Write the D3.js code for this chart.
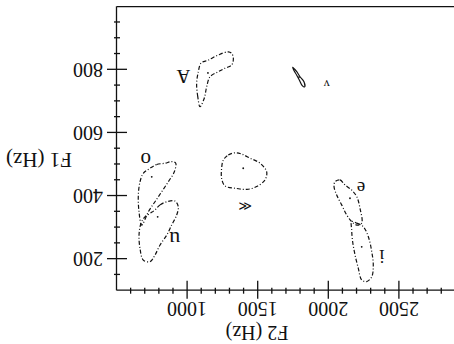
<!DOCTYPE html>
<html>
<head>
<meta charset="utf-8">
<script src="https://cdn.jsdelivr.net/npm/d3@7/dist/d3.min.js"></script>
<style>
  body { margin: 0; background: #fff; }
  .chart text { font-family: "Liberation Serif", "Times New Roman", serif; fill: #111; }
</style>
</head>
<body>
<div class="chart"></div>
<script>
// vowel regions in the F2 / F1 plane (Hz)
let f2Labels = [1000, 1500, 2000, 2500]
let f1Labels = [200, 400, 600, 800]

let regionA = [[1088,683],[1072,715],[1064,757],[1076,794],[1095,821],[1147,831],[1217,847],[1288,857],
  [1312,852],[1324,836],[1312,815],[1265,805],[1217,794],[1159,778],[1135,746],[1118,710]]
let regionV = [[1744,808],[1773,794],[1796,778],[1824,762],[1829,746],[1812,750],[1791,768],[1773,783],[1754,797]]
let regionMid = [[1253,514],[1288,530],[1336,537],[1383,533],[1442,520],[1513,504],[1560,477],[1548,451],
  [1489,430],[1419,421],[1348,424],[1265,432],[1241,456],[1241,488]]
let regionO = [[734,488],[781,500],[840,504],[887,509],[916,504],[906,477],[863,445],[817,414],[769,382],
  [722,350],[675,308],[656,350],[651,403],[663,445],[686,472]]
let regionU = [[769,356],[805,372],[852,382],[911,384],[934,366],[923,340],[887,308],[852,276],[805,245],
  [769,213],[734,192],[686,197],[663,234],[656,276],[670,314],[698,334],[734,345]]
let regionE = [[2044,445],[2079,451],[2115,435],[2162,419],[2198,398],[2221,361],[2233,314],[2198,308],
  [2162,319],[2127,340],[2091,372],[2056,403],[2037,430]]
let regionI = [[2162,319],[2198,314],[2244,303],[2280,271],[2304,224],[2315,181],[2304,144],[2268,129],
  [2233,134],[2209,171],[2186,213],[2169,255],[2162,292]]

let centreF2 = [1144, 1789, 1394, 746, 788, 2150, 2233]
let centreF1 = [790, 777, 488, 461, 334, 393, 239]

let vowelNames = ['A', 'v', '\u226A', 'o', 'u', 'e', 'i']
let vowelF2 = [970, 1985, 1406, 703, 909, 2228, 2375]
let vowelF1 = [780, 759, 372, 521, 272, 431, 210]

let regions = [regionA, regionV, regionMid, regionO, regionU, regionE, regionI]

let width = 454, height = 344

let svg = d3.select('.chart')
  .append('svg')
    .attr('width', width)
    .attr('height', height)

// the printed figure was scanned upside down: draw it upright, then turn it
let g = svg.append('g')
  .attr('transform', `rotate(180, ${width / 2}, ${height / 2})`)

let x = d3.scaleLinear().domain([500, 3000]).range([337, -16])
let y = d3.scaleLinear().domain([100, 1000]).range([53.3, 337.3])

// F2 axis (top when upright), ticks cross the line
g.append('g')
    .attr('transform', `translate(0, ${y(100)})`)
  .call(d3.axisTop(x).tickValues(d3.range(600, 3001, 100).filter(v => v % 500 !== 0))
    .tickSize(3).tickSizeOuter(0).tickFormat(''))
  .call(a => a.select('.domain').remove())
  .selectAll('.tick line').attr('y1', 3)

let xAxis = g.append('g')
    .attr('transform', `translate(0, ${y(100)})`)
  .call(d3.axisTop(x).tickValues(f2Labels.concat([3000])).tickSize(8).tickPadding(3)
    .tickSizeOuter(0).tickFormat(d => f2Labels.includes(d) ? d3.format('d')(d) : ''))
xAxis.selectAll('.tick line').attr('y1', 10)

// F1 axis (right when upright)
g.append('g')
    .attr('transform', `translate(${x(500)}, 0)`)
  .call(d3.axisRight(y).tickValues(d3.range(150, 1000, 50).filter(v => !f1Labels.includes(v)))
    .tickSize(3).tickSizeOuter(0).tickFormat(''))
  .call(a => a.select('.domain').remove())
  .selectAll('.tick line').attr('x1', -3)

let yAxis = g.append('g')
    .attr('transform', `translate(${x(500)}, 0)`)
  .call(d3.axisRight(y).tickValues(f1Labels).tickSize(10).tickPadding(4).tickSizeOuter(0)
    .tickFormat(d3.format('d')))
yAxis.selectAll('.tick line').attr('x1', -10)

g.selectAll('.domain, .tick line').attr('stroke', '#111').attr('stroke-width', 1.3)
g.selectAll('.tick text')
  .attr('font-family', '"Liberation Serif", serif')
  .attr('font-size', 20)

// frame line opposite the F2 axis
g.append('line')
  .attr('x1', x(500)).attr('x2', x(3000))
  .attr('y1', y(1000)).attr('y2', y(1000))
  .attr('stroke', '#111').attr('stroke-width', 1.3)

g.append('text')
  .attr('x', 197).attr('y', 18)
  .attr('text-anchor', 'middle')
  .style('font-size', '20px')
  .text('F2 (Hz)')

g.append('text')
  .attr('x', 415).attr('y', 191)
  .attr('text-anchor', 'middle')
  .style('font-size', '21px')
  .text('F1 (Hz)')

// vowel regions
let outline = d3.line()
  .x(d => x(d[0]))
  .y(d => y(d[1]))
  .curve(d3.curveCatmullRomClosed.alpha(0.5))

g.selectAll('path.region')
  .data(regions)
  .enter()
  .append('path')
    .attr('class', 'region')
    .attr('d', outline)
    .attr('fill', 'none')
    .attr('stroke', '#111')
    .attr('stroke-width', 1.2)
    .attr('stroke-dasharray', (d, i) => i === 1 ? null : '4,2,1,2')

g.selectAll('circle.centre')
  .data(centreF2)
  .enter()
  .append('circle')
    .attr('class', 'centre')
    .attr('cx', d => x(d))
    .attr('cy', (d, i) => y(centreF1[i]))
    .attr('r', 0.9)
    .attr('fill', '#111')

let labelSize = { 'A': 19, 'v': 12, '\u226A': 13, 'o': 21, 'u': 22, 'e': 19, 'i': 19 }
g.selectAll('text.vowel')
  .data(vowelNames)
  .enter()
  .append('text')
    .attr('class', 'vowel')
    .attr('x', (d, i) => x(vowelF2[i]))
    .attr('y', (d, i) => y(vowelF1[i]))
    .attr('dy', d => (d === 'A' || d === 'i') ? '0.34em' : '0.22em')
    .attr('text-anchor', 'middle')
    .style('font-size', d => labelSize[d] + 'px')
    .text(d => d)
</script>
</body>
</html>
